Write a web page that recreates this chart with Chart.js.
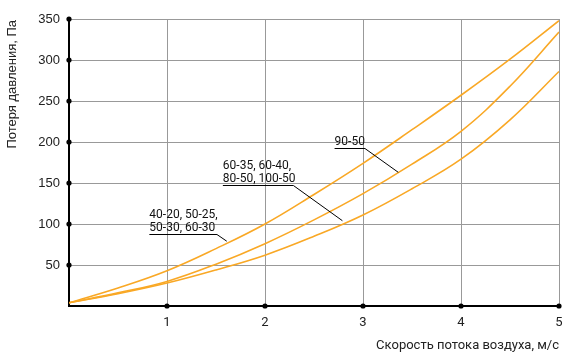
<!DOCTYPE html>
<html>
<head>
<meta charset="utf-8">
<script src="https://cdn.jsdelivr.net/npm/chart.js@4"></script>
<style>
  html, body { margin: 0; padding: 0; background: #fff; }
  #wrap { width: 564px; height: 354px; }
</style>
</head>
<body>
<div id="wrap"><canvas id="pressureChart" width="564" height="354"></canvas></div>
<script>
// скорость, м/с
let speeds = [0, 0.5, 1, 1.5, 2, 2.5, 3, 3.5, 4, 4.5, 5];
// потеря давления, Па
let loss9050 = [4, 22, 43, 70, 100, 136, 174, 215, 257, 301, 348];
let loss6035 = [4, 16, 30, 51, 76, 105, 137, 173, 213, 268, 334];
let loss4020 = [4, 15, 28, 44, 62, 85, 111, 143, 179, 227, 286];

let xTicks = [1, 2, 3, 4, 5];
let yTicks = [50, 100, 150, 200, 250, 300, 350];

// подписи: строки, левый край/подчёркивание (x, y), конец подчёркивания, конец выноски
let noteLines = [
  ["40-20, 50-25,", "50-30, 60-30"],
  ["60-35, 60-40,", "80-50, 100-50"],
  ["90-50"],
];
let noteStart = [[0.82, 88], [1.57, 147.5], [2.71, 193]];
let noteEndX = [1.51, 2.29, 3.02];
let noteTip = [[1.61, 79], [2.79, 104], [3.36, 163]];

const orange = "#f9a825";
const dinFont = "Roboto";
const yTitle = "Потеря давления, Па";

function toPoints(ys) {
  return speeds.map((x, i) => ({ x: x, y: ys[i] }));
}

// точки на осях, подпись оси Y и подписи с выносками
const extras = {
  id: "extras",
  afterDraw(chart) {
    const ctx = chart.ctx;
    const xs = chart.scales.x;
    const ys = chart.scales.y;
    const area = chart.chartArea;

    ctx.save();
    ctx.fillStyle = "#000";
    xTicks.forEach((v) => {
      ctx.beginPath();
      ctx.arc(xs.getPixelForValue(v), area.bottom, 2.6, 0, Math.PI * 2);
      ctx.fill();
    });
    yTicks.forEach((v) => {
      ctx.beginPath();
      ctx.arc(area.left, ys.getPixelForValue(v), 2.6, 0, Math.PI * 2);
      ctx.fill();
    });

    // подпись оси Y прижата к верху
    ctx.save();
    ctx.translate(12, area.top + 1);
    ctx.rotate(-Math.PI / 2);
    ctx.font = "13px Liberation Sans";
    ctx.fillStyle = "#222";
    ctx.textAlign = "right";
    ctx.textBaseline = "middle";
    ctx.fillText(yTitle, 0, 0);
    ctx.restore();

    ctx.font = "12px " + dinFont;
    ctx.fillStyle = "#111";
    ctx.textBaseline = "alphabetic";
    ctx.textAlign = "left";
    ctx.strokeStyle = "#000";
    ctx.lineWidth = 1;
    noteLines.forEach((lines, i) => {
      let x0 = xs.getPixelForValue(noteStart[i][0]);
      let y0 = Math.round(ys.getPixelForValue(noteStart[i][1])) + 0.5;
      let x1 = xs.getPixelForValue(noteEndX[i]);
      let tx = xs.getPixelForValue(noteTip[i][0]);
      let ty = ys.getPixelForValue(noteTip[i][1]);
      for (let k = 0; k < lines.length; k++) {
        let by = y0 - 4 - (lines.length - 1 - k) * 13;
        ctx.fillText(lines[k], x0, by);
      }
      ctx.beginPath();
      ctx.moveTo(x0, y0);
      ctx.lineTo(x1, y0);
      ctx.lineTo(tx, ty);
      ctx.stroke();
    });
    ctx.restore();
  },
};

function lineSet(label, ys) {
  return {
    label: label,
    data: toPoints(ys),
    showLine: true,
    borderColor: orange,
    backgroundColor: orange,
    borderWidth: 1.6,
    pointRadius: 0,
    tension: 0.4,
    fill: false,
  };
}

let chart_Data = {
  datasets: [
    lineSet("90-50", loss9050),
    lineSet("60-35, 60-40, 80-50, 100-50", loss6035),
    lineSet("40-20, 50-25, 50-30, 60-30", loss4020),
  ],
};

let options = {
  responsive: false,
  animation: false,
  layout: { padding: { top: 19, right: 5, left: 0, bottom: 0 } },
  plugins: { legend: { display: false }, tooltip: { enabled: false } },
  scales: {
    x: {
      type: "linear",
      min: 0,
      max: 5,
      afterFit: (s) => { s.height = 48; s.paddingLeft = 0; s.paddingRight = 0; },
      afterBuildTicks: (s) => { s.ticks = [0].concat(xTicks).map((v) => ({ value: v })); },
      border: { color: "#000", width: 2 },
      grid: { color: "#999", lineWidth: 1, drawTicks: false },
      ticks: {
        padding: 9,
        color: "#222",
        font: { family: dinFont, size: 13 },
        callback: (v) => (v === 0 ? "" : v),
      },
      title: {
        display: true,
        align: "end",
        text: "Скорость потока воздуха, м/с",
        color: "#222",
        font: { family: dinFont, size: 13 },
        padding: { top: 8, bottom: 0 },
      },
    },
    y: {
      min: 0,
      max: 350,
      afterFit: (s) => { s.width = 69; s.paddingTop = 0; s.paddingBottom = 0; },
      afterBuildTicks: (s) => { s.ticks = [0].concat(yTicks).map((v) => ({ value: v })); },
      border: { color: "#000", width: 2 },
      grid: { color: "#999", lineWidth: 1, drawTicks: false },
      ticks: {
        padding: 9,
        color: "#222",
        font: { family: "Liberation Sans", size: 13 },
        callback: (v) => (v === 0 ? "" : v),
      },
      title: { display: false },
    },
  },
};

var ctx = document.getElementById("pressureChart").getContext("2d");
var myChart = new Chart(ctx, {
  type: "scatter",
  data: chart_Data,
  options: options,
  plugins: [extras],
});
</script>
</body>
</html>
